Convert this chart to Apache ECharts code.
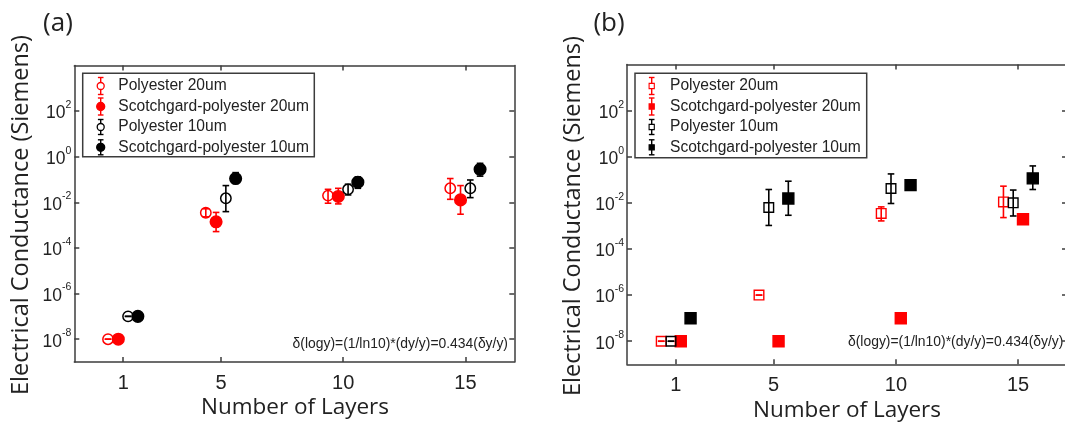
<!DOCTYPE html>
<html>
<head>
<meta charset="utf-8">
<script src="https://cdn.jsdelivr.net/npm/echarts@6/dist/echarts.min.js"></script>
<style>
  html, body { margin: 0; padding: 0; background: #ffffff; }
  #chart { width: 1065px; height: 425px; }
</style>
</head>
<body>
<div id="chart"></div>
<script>
// ---- Data --------------------------------------------------------------
const layers = [1, 5, 10, 15];
const xTicks = [1, 5, 10, 15];
const yTicks = [1e-8, 1e-6, 1e-4, 1e-2, 1e0, 1e2];
const seriesNames = ['Polyester 20um', 'Scotchgard-polyester 20um', 'Polyester 10um', 'Scotchgard-polyester 10um'];
const noteText = 'δ(logy)=(1/ln10)*(dy/y)=0.434(δy/y)';

// Panel (a): conductance (S) with lower / upper error limits
const aPoly20     = [1e-8, 3.5e-3, 0.0196, 0.041];
const aPoly20Lo   = [1e-8, 2.3e-3, 0.0091, 0.0135];
const aPoly20Hi   = [1e-8, 5.2e-3, 0.037, 0.11];
const aScotch20   = [1e-8, 1.4e-3, 0.018, 0.0127];
const aScotch20Lo = [1e-8, 5.2e-4, 0.0085, 0.003];
const aScotch20Hi = [1e-8, 3.6e-3, 0.041, 0.054];
const aPoly10     = [1e-7, 0.015, 0.037, 0.041];
const aPoly10Lo   = [1e-7, 3.9e-3, 0.021, 0.016];
const aPoly10Hi   = [1e-7, 0.054, 0.062, 0.095];
const aScotch10   = [1e-7, 0.11, 0.076, 0.28];
const aScotch10Lo = [1e-7, 0.068, 0.041, 0.14];
const aScotch10Hi = [1e-7, 0.2, 0.13, 0.51];

// Panel (b): conductance (S) with lower / upper error limits
const bPoly20     = [1e-8, 1e-6, 3.5e-3, 0.011];
const bPoly20Lo   = [1e-8, 1e-6, 1.65e-3, 2.3e-3];
const bPoly20Hi   = [1e-8, 1e-6, 6.7e-3, 0.053];
const bScotch20   = [1e-8, 1e-8, 1e-7, 1.96e-3];
const bScotch20Lo = [1e-8, 1e-8, 1e-7, 1.96e-3];
const bScotch20Hi = [1e-8, 1e-8, 1e-7, 1.96e-3];
const bPoly10     = [1e-8, 6.3e-3, 0.042, 0.01];
const bPoly10Lo   = [1e-8, 1.05e-3, 9.4e-3, 2.7e-3];
const bPoly10Hi   = [1e-8, 0.038, 0.18, 0.036];
const bScotch10   = [1e-7, 0.0155, 0.059, 0.115];
const bScotch10Lo = [1e-7, 2.9e-3, 0.059, 0.038];
const bScotch10Hi = [1e-7, 0.087, 0.059, 0.4];

// ---- Styling -------------------------------------------------------------
const RED = '#ff0000';
const BLACK = '#000000';
const AXIS = '#3c3c3c';
const TXT = '#222222';
const SANS = '"Liberation Sans", Arial, sans-serif';
const TITLE_FONT = '"Open Sans", "DejaVu Sans", sans-serif';

const chart = echarts.init(document.getElementById('chart'), null, { renderer: 'canvas' });

// Error bar with caps plus the marker, placed through the axis scales
function errorSeries(name, axisIdx, color, filled, shape, dx, vals, lo, hi) {
  return {
    type: 'custom',
    name: name,
    xAxisIndex: axisIdx * 2,
    yAxisIndex: axisIdx * 2,
    data: layers.map((L, i) => [L + dx, vals[i], lo[i], hi[i]]),
    encode: { x: 0, y: 1 },
    renderItem: function (params, api) {
      const x = api.value(0);
      const p = api.coord([x, api.value(1)]);
      const pl = api.coord([x, api.value(2)]);
      const ph = api.coord([x, api.value(3)]);
      const cap = 3.3;
      const ls = { stroke: color, lineWidth: 1.6 };
      let marker;
      if (shape === 'circle') {
        marker = {
          type: 'circle',
          shape: { cx: p[0], cy: p[1], r: filled ? 5.8 : 5.2 },
          style: { fill: filled ? color : 'none', stroke: color, lineWidth: 1.5 }
        };
      } else {
        const s = filled ? 11 : 9.6;
        marker = {
          type: 'rect',
          shape: { x: p[0] - s / 2, y: p[1] - s / 2, width: s, height: s },
          style: { fill: filled ? color : 'none', stroke: color, lineWidth: 1.4 }
        };
      }
      return {
        type: 'group',
        children: [
          { type: 'line', shape: { x1: p[0], y1: ph[1], x2: p[0], y2: pl[1] }, style: ls },
          { type: 'line', shape: { x1: p[0] - cap, y1: ph[1], x2: p[0] + cap, y2: ph[1] }, style: ls },
          { type: 'line', shape: { x1: p[0] - cap, y1: pl[1], x2: p[0] + cap, y2: pl[1] }, style: ls },
          marker
        ]
      };
    }
  };
}

// Boxed axes: labelled bottom/left, mirrored tick-only top/right
function xAxesFor(gridIndex) {
  const lineStyle = { color: AXIS, width: 1.5 };
  const base = {
    gridIndex: gridIndex, type: 'value', min: -1, max: 17,
    splitLine: { show: false },
    axisLine: { show: true, onZero: false, lineStyle: lineStyle },
    axisTick: { show: true, inside: true, length: 5, customValues: xTicks, lineStyle: lineStyle }
  };
  return [
    Object.assign({}, base, {
      position: 'bottom',
      axisLabel: { customValues: xTicks, margin: 11, fontSize: 20, fontFamily: SANS, color: TXT }
    }),
    Object.assign({}, base, { position: 'top', axisLabel: { show: false } })
  ];
}

function yAxesFor(gridIndex) {
  const lineStyle = { color: AXIS, width: 1.5 };
  const base = {
    gridIndex: gridIndex, type: 'log', logBase: 10, min: 1e-9, max: 1e4,
    splitLine: { show: false },
    axisLine: { show: true, onZero: false, lineStyle: lineStyle },
    axisTick: { show: true, inside: true, length: 5, customValues: yTicks, lineStyle: lineStyle }
  };
  return [
    Object.assign({}, base, {
      position: 'left',
      axisLabel: {
        customValues: yTicks,
        margin: 3,
        formatter: function (v) { return '{b|10}{e|' + Math.round(Math.log10(v)) + '}'; },
        rich: {
          b: { fontSize: 17.5, fontFamily: SANS, color: TXT, lineHeight: 23, verticalAlign: 'bottom' },
          e: { fontSize: 10.5, fontFamily: SANS, color: TXT, lineHeight: 10, verticalAlign: 'top' }
        }
      }
    }),
    Object.assign({}, base, { position: 'right', axisLabel: { show: false } })
  ];
}

// Boxed legend drawn with graphic elements
function legendBox(box, markerX, textX, rowsY, shape) {
  const colors = [RED, RED, BLACK, BLACK];
  const filled = [false, true, false, true];
  const els = [{
    type: 'rect',
    shape: { x: box[0], y: box[1], width: box[2], height: box[3] },
    style: { fill: '#ffffff', stroke: AXIS, lineWidth: 1.5 },
    z: 10
  }];
  seriesNames.forEach((name, i) => {
    const y = rowsY[i];
    const c = colors[i];
    const half = i < 2 ? 8.5 : 7.5;
    const ls = { stroke: c, lineWidth: 1.4 };
    els.push({ type: 'line', shape: { x1: markerX, y1: y - half, x2: markerX, y2: y + half }, style: ls, z: 11 });
    els.push({ type: 'line', shape: { x1: markerX - 2.8, y1: y - half, x2: markerX + 2.8, y2: y - half }, style: ls, z: 11 });
    els.push({ type: 'line', shape: { x1: markerX - 2.8, y1: y + half, x2: markerX + 2.8, y2: y + half }, style: ls, z: 11 });
    if (shape === 'circle') {
      els.push({ type: 'circle', shape: { cx: markerX, cy: y, r: filled[i] ? 4 : 3.5 },
        style: { fill: filled[i] ? c : '#ffffff', stroke: c, lineWidth: 1.3 }, z: 12 });
    } else {
      els.push({ type: 'rect', shape: { x: markerX - 2.6, y: y - 2.6, width: 5.2, height: 5.2 },
        style: { fill: filled[i] ? c : '#ffffff', stroke: c, lineWidth: 1.1 }, z: 12 });
    }
    els.push({ type: 'text', x: textX, y: y,
      style: { text: name, fill: TXT, font: '15.6px ' + SANS, align: 'left', verticalAlign: 'middle' }, z: 12 });
  });
  return els;
}

function label(text, x, y, font, opts) {
  return {
    type: 'text', x: x, y: y,
    style: Object.assign({ text: text, fill: TXT, font: font, align: 'center', verticalAlign: 'middle' }, opts || {})
  };
}

const graphicEls = []
  .concat(legendBox([82.7, 73.3, 231.6, 83.4], 100.7, 118.3, [86, 106.5, 127, 147.3], 'circle'))
  .concat(legendBox([635, 73.3, 231.7, 84.4], 651.7, 670, [86, 106.5, 127, 147.3], 'square'))
  .concat([
    label('(a)', 58, 24, '26px ' + TITLE_FONT),
    label('(b)', 609, 24, '26px ' + TITLE_FONT),
    Object.assign(label('Electrical Conductance (Siemens)', 21, 215, '23.5px ' + TITLE_FONT), { rotation: Math.PI / 2 }),
    Object.assign(label('Electrical Conductance (Siemens)', 573, 216, '23.5px ' + TITLE_FONT), { rotation: Math.PI / 2 }),
    label('Number of Layers', 295, 408, '22.5px ' + TITLE_FONT),
    label('Number of Layers', 847, 411, '22.5px ' + TITLE_FONT),
    label(noteText, 508, 344, '13.9px ' + SANS, { align: 'right' }),
    label(noteText, 848, 342, '13.9px ' + SANS, { align: 'left' })
  ]);

const option = {
  backgroundColor: '#ffffff',
  animation: false,
  grid: [
    { left: 74.3, top: 65.4, width: 440, height: 296.6, outerBoundsMode: 'none' },
    { left: 627, top: 64.5, width: 440, height: 299.8, outerBoundsMode: 'none' }
  ],
  xAxis: xAxesFor(0).concat(xAxesFor(1)),
  yAxis: yAxesFor(0).concat(yAxesFor(1)),
  series: [
    errorSeries(seriesNames[0], 0, RED, false, 'circle', -0.62, aPoly20, aPoly20Lo, aPoly20Hi),
    errorSeries(seriesNames[1], 0, RED, true, 'circle', -0.2, aScotch20, aScotch20Lo, aScotch20Hi),
    errorSeries(seriesNames[2], 0, BLACK, false, 'circle', 0.2, aPoly10, aPoly10Lo, aPoly10Hi),
    errorSeries(seriesNames[3], 0, BLACK, true, 'circle', 0.6, aScotch10, aScotch10Lo, aScotch10Hi),
    errorSeries(seriesNames[0], 1, RED, false, 'square', -0.6, bPoly20, bPoly20Lo, bPoly20Hi),
    errorSeries(seriesNames[1], 1, RED, true, 'square', 0.2, bScotch20, bScotch20Lo, bScotch20Hi),
    errorSeries(seriesNames[2], 1, BLACK, false, 'square', -0.2, bPoly10, bPoly10Lo, bPoly10Hi),
    errorSeries(seriesNames[3], 1, BLACK, true, 'square', 0.6, bScotch10, bScotch10Lo, bScotch10Hi)
  ],
  graphic: { elements: graphicEls }
};

chart.setOption(option);
</script>
</body>
</html>
